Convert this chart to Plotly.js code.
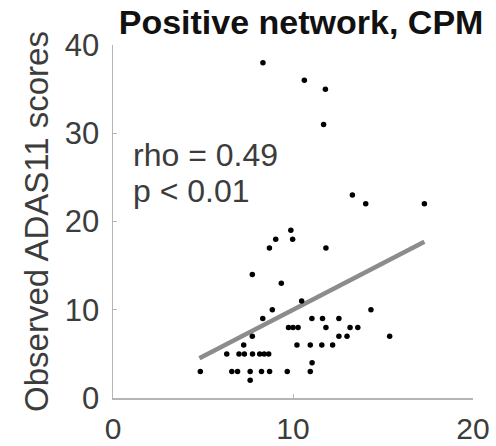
<!DOCTYPE html>
<html>
<head>
<meta charset="utf-8">
<script src="https://cdn.plot.ly/plotly-3.0.1.min.js"></script>
<style>html,body{margin:0;padding:0;background:#fff}#chart{width:496px;height:446px}</style>
</head>
<body>
<div id="chart"></div>
<script>
// Predicted (x) vs observed ADAS11 scores (y)
const predicted = [8.33, 10.63, 11.8, 11.7, 13.3, 14.04, 17.3, 9.88, 9.04, 9.98, 8.69, 11.83, 7.74, 9.35, 10.48, 8.85, 14.33,
  8.32, 11.05, 11.64, 12.55,
  9.75, 10.0, 10.28, 11.83, 13.17, 13.6,
  7.74, 12.55, 13.0, 15.37,
  7.26, 10.22, 10.96, 11.6, 12.2,
  6.32, 7.0, 7.3, 7.75, 8.15, 8.4, 8.65,
  11.06,
  4.85, 6.6, 6.92, 7.62, 8.25, 8.7, 9.68, 10.96,
  7.62];
const observed = [38, 36, 35, 31, 23, 22, 22, 19, 18, 18, 17, 17, 14, 13, 11, 10, 10,
  9, 9, 9, 9,
  8, 8, 8, 8, 8, 8,
  7, 7, 7, 7,
  6, 6, 6, 6, 6,
  5, 5, 5, 5, 5, 5, 5,
  4,
  3, 3, 3, 3, 3, 3, 3, 3,
  2];
const fitX = [4.8, 17.3];
const fitY = [4.5, 17.7];
const xTicks = [0, 10, 20];
const yTicks = [0, 10, 20, 30, 40];
const statLines = ["rho = 0.49", "p < 0.01"];
const statY = [27.5, 23.5];

const font = "Liberation Sans, Arial, sans-serif";
const traces = [
  {x: fitX, y: fitY, type: "scatter", mode: "lines",
   line: {color: "#8c8c8c", width: 4.5}, hoverinfo: "skip"},
  {x: predicted, y: observed, type: "scatter", mode: "markers",
   marker: {color: "#000", size: 5.5}}
];
const axisBase = {
  showgrid: false, zeroline: false, showline: true, linecolor: "#b5b5b5", linewidth: 1.5,
  ticks: "inside", ticklen: 4, tickcolor: "#b5b5b5", tickwidth: 1,
  tickfont: {family: font, size: 31, color: "#3c3c3c"}, fixedrange: true
};
const layout = {
  width: 496, height: 446,
  margin: {l: 113, r: 23, t: 45, b: 48},
  paper_bgcolor: "#fff", plot_bgcolor: "#fff",
  showlegend: false,
  title: {text: "<b>Positive network, CPM</b>", font: {family: font, size: 34, color: "#111"},
          x: 0.607, xanchor: "center", y: 0.978, yanchor: "top"},
  xaxis: Object.assign({}, axisBase, {range: [0, 20], tickvals: xTicks, ticktext: xTicks.map(String), ticklabelstandoff: 3,
    tickfont: {family: font, size: 30, color: "#3c3c3c"}}),
  yaxis: Object.assign({}, axisBase, {range: [0, 40], tickvals: yTicks, ticktext: yTicks.map(String), ticklabelstandoff: 6,
    title: {text: "Observed ADAS11 scores", font: {family: font, size: 33, color: "#3c3c3c"}, standoff: 6}}),
  annotations: statLines.map((t, i) => ({
    text: t, x: 1.0, y: statY[i], xref: "x", yref: "y", xanchor: "left", yanchor: "middle",
    showarrow: false, font: {family: font, size: 32, color: "#3c3c3c"}
  }))
};
Plotly.newPlot("chart", traces, layout, {displayModeBar: false, staticPlot: true});
</script>
</body>
</html>
